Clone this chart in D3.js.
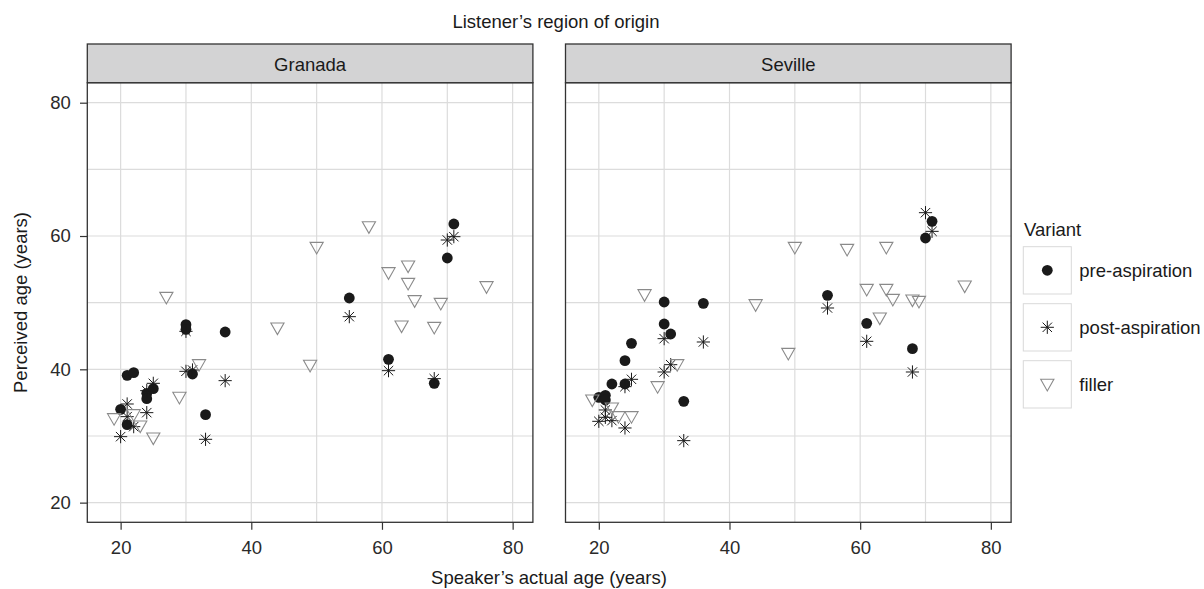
<!DOCTYPE html>
<html>
<head>
<meta charset="utf-8">
<script src="https://cdn.jsdelivr.net/npm/d3@7"></script>
<style>
body{margin:0;background:#fff;}
text{font-family:"Liberation Sans",Arial,Helvetica,sans-serif;}
</style>
</head>
<body>
<svg></svg>
<script>

// speaker ages and perceived ages
var regions = ["Granada","Seville"]
var variants = ["pre-aspiration","post-aspiration","filler"]

var preAges = [20,21,21,22,24,24,25,30,30,31,33,36,55,61,68,70,71]
var granadaPre = [34.0,39.1,31.7,39.5,36.4,35.6,37.1,46.7,46.0,39.3,33.2,45.6,50.7,41.5,37.9,56.7,61.8]
var sevillePre = [35.8,36.1,35.4,37.8,41.3,37.8,43.9,50.1,46.8,45.3,35.2,49.9,51.1,46.9,43.1,59.7,62.2]

var postAges = [20,21,21,22,24,24,25,30,30,31,33,36,55,61,68,70,71]
var granadaPost = [29.9,34.8,32.9,31.4,33.5,36.8,37.9,45.7,39.7,39.9,29.5,38.3,47.9,39.8,38.6,59.4,59.9]
var sevillePost = [32.2,33.9,32.8,32.3,31.2,37.4,38.5,44.6,39.6,40.7,29.3,44.1,49.2,44.2,39.6,63.5,60.7]

var fillerAges = [19,22,23,25,27,29,32,44,49,50,58,61,63,64,64,65,68,69,76]
var granadaFiller = [32.6,33.2,31.5,29.7,50.8,35.8,40.7,46.2,40.6,58.3,61.4,54.5,46.5,55.5,52.9,50.3,46.3,49.9,52.4]
var sevilleFiller = [35.4,34.2,32.9,32.9,51.2,37.4,40.7,49.7,42.4,58.3,58.0,52.0,47.7,58.3,52.0,50.5,50.4,50.2,52.5]

var xTicks = [20,40,60,80]
var yTicks = [20,40,60,80]
var gridVals = [20,30,40,50,60,70,80]

var screen = {width:1204,height:589}
var panel = {top:82.7,width:445.6,height:439.6,strip:38.7}
var panelLefts = [87.3,565.5]

var dark = "#333"
var fontSize = 18.5

var makePoints = function(ages,vals,variant)
{
    return ages.map(function(a,i){ return {age:a,val:vals[i],variant:variant} })
}

var panelData = [
    makePoints(preAges,granadaPre,"pre-aspiration")
      .concat(makePoints(postAges,granadaPost,"post-aspiration"))
      .concat(makePoints(fillerAges,granadaFiller,"filler")),
    makePoints(preAges,sevillePre,"pre-aspiration")
      .concat(makePoints(postAges,sevillePost,"post-aspiration"))
      .concat(makePoints(fillerAges,sevilleFiller,"filler"))
]

var xScale = d3.scaleLinear()
    .domain([14.9,83.1])
    .range([0,panel.width])

var yScale = d3.scaleLinear()
    .domain([17.05,83.0])
    .range([panel.height,0])

var svg = d3.select("svg")
    .attr("width",screen.width)
    .attr("height",screen.height)

// draws one marker shape into a group
var drawMarker = function(g,variant)
{
    if(variant=="pre-aspiration")
    {
        g.append("circle").attr("r",5.4).attr("fill","#1a1a1a")
    }
    else if(variant=="post-aspiration")
    {
        var s = 6.6, d = 4.7
        var p = "M0,"+(-s)+"L0,"+s+"M"+(-s)+",0L"+s+",0"
              + "M"+(-d)+","+(-d)+"L"+d+","+d+"M"+(-d)+","+d+"L"+d+","+(-d)
        g.append("path").attr("d",p).attr("stroke","#1a1a1a")
         .attr("stroke-width",1).attr("fill","none")
    }
    else
    {
        g.append("path").attr("d","M-6.6,-5L6.6,-5L0,6.6Z")
         .attr("stroke","#8a8a8a").attr("stroke-width",1.1).attr("fill","none")
    }
}

regions.forEach(function(region,k)
{
    var g = svg.append("g")
        .attr("class","panel")
        .attr("transform","translate("+panelLefts[k]+","+panel.top+")")

    g.append("rect")
        .attr("width",panel.width).attr("height",panel.height)
        .attr("fill","#fff")

    g.selectAll(".vgrid").data(gridVals).enter()
        .append("line").attr("class","vgrid")
        .attr("x1",function(d){return xScale(d)}).attr("x2",function(d){return xScale(d)})
        .attr("y1",0).attr("y2",panel.height)
        .attr("stroke","#dcdcdc").attr("stroke-width",1.2)

    g.selectAll(".hgrid").data(gridVals).enter()
        .append("line").attr("class","hgrid")
        .attr("y1",function(d){return yScale(d)}).attr("y2",function(d){return yScale(d)})
        .attr("x1",0).attr("x2",panel.width)
        .attr("stroke","#dcdcdc").attr("stroke-width",1.2)

    g.selectAll(".pt").data(panelData[k]).enter()
        .append("g").attr("class","pt")
        .attr("transform",function(d){return "translate("+xScale(d.age)+","+yScale(d.val)+")"})
        .each(function(d){ drawMarker(d3.select(this),d.variant) })

    g.append("rect")
        .attr("width",panel.width).attr("height",panel.height)
        .attr("fill","none").attr("stroke",dark).attr("stroke-width",1.3)

    // strip on top
    g.append("rect")
        .attr("y",-panel.strip)
        .attr("width",panel.width).attr("height",panel.strip)
        .attr("fill","#d3d3d4").attr("stroke",dark).attr("stroke-width",1.3)

    g.append("text")
        .attr("x",panel.width/2).attr("y",-12)
        .attr("text-anchor","middle")
        .attr("font-size",fontSize).attr("fill","#1a1a1a")
        .text(region)

    var xAxis = d3.axisBottom(xScale).tickValues(xTicks).tickSize(7.5).tickPadding(10.9)
    var xg = g.append("g")
        .attr("transform","translate(0,"+panel.height+")")
        .call(xAxis)
    xg.select(".domain").remove()
    xg.selectAll("line").attr("stroke",dark).attr("stroke-width",1.2)
    xg.selectAll("text").attr("font-size",fontSize).attr("fill","#2a2a2a")
        .style("font-family",'"Liberation Sans",Arial,sans-serif')

    if(k==0)
    {
        var yAxis = d3.axisLeft(yScale).tickValues(yTicks).tickSize(7.3).tickPadding(9.3)
        var yg = g.append("g").call(yAxis)
        yg.select(".domain").remove()
        yg.selectAll("line").attr("stroke",dark).attr("stroke-width",1.2)
        yg.selectAll("text").attr("font-size",fontSize).attr("fill","#2a2a2a")
            .style("font-family",'"Liberation Sans",Arial,sans-serif')
    }
})

// titles
svg.append("text")
    .attr("x",556).attr("y",28.3)
    .attr("text-anchor","middle")
    .attr("font-size",fontSize).attr("fill","#1a1a1a")
    .text("Listener\u2019s region of origin")

svg.append("text")
    .attr("x",549).attr("y",584)
    .attr("text-anchor","middle")
    .attr("font-size",fontSize).attr("fill","#1a1a1a")
    .text("Speaker\u2019s actual age (years)")

svg.append("text")
    .attr("transform","translate(26.7,302.5) rotate(-90)")
    .attr("text-anchor","middle")
    .attr("font-size",fontSize).attr("fill","#1a1a1a")
    .text("Perceived age (years)")

// legend
var legend = svg.append("g").attr("transform","translate(1023.3,0)")

legend.append("text")
    .attr("x",0.7).attr("y",236)
    .attr("font-size",fontSize).attr("fill","#1a1a1a")
    .text("Variant")

var keys = legend.selectAll(".key").data(variants).enter()
    .append("g").attr("class","key")
    .attr("transform",function(d,i){return "translate(0,"+(246.7+i*57)+")"})

keys.append("rect")
    .attr("width",48).attr("height",47.3)
    .attr("fill","#fff").attr("stroke","#d9d9d9").attr("stroke-width",1)

keys.append("g")
    .attr("transform","translate(24,23.6)")
    .each(function(d){ drawMarker(d3.select(this),d) })

keys.append("text")
    .attr("x",56).attr("y",23.6).attr("dy","0.35em")
    .attr("font-size",fontSize).attr("fill","#1a1a1a")
    .text(function(d){return d})

</script>
</body>
</html>
